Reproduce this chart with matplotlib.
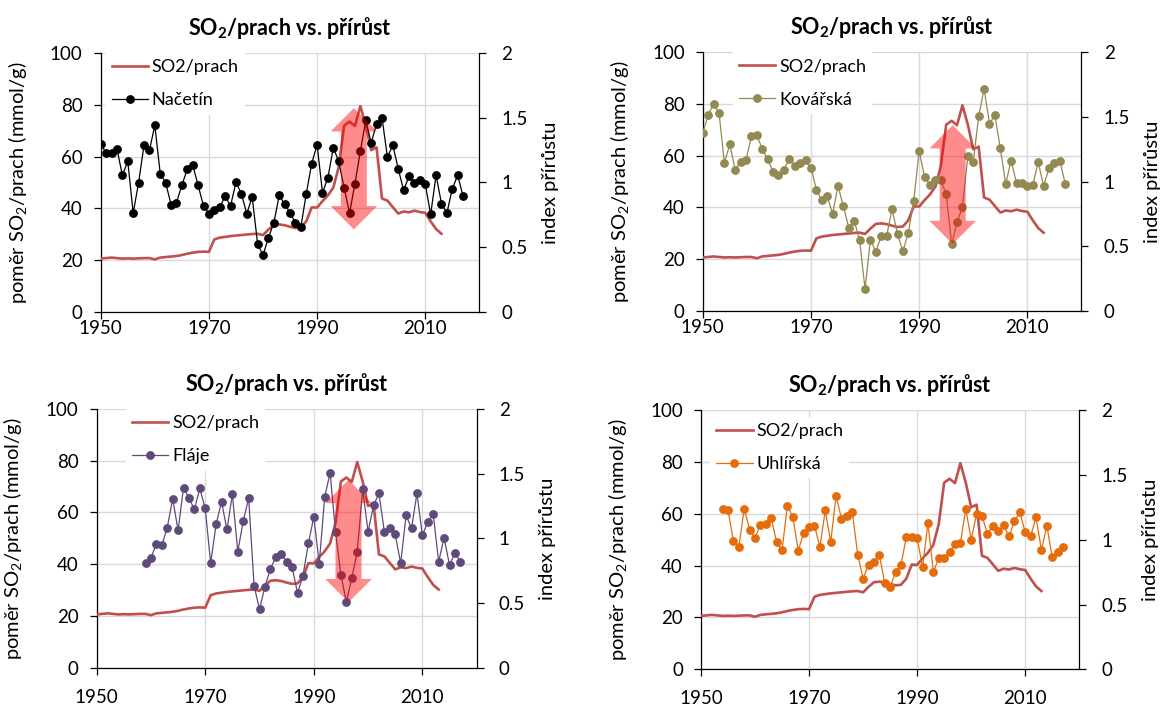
import numpy as np
import matplotlib
matplotlib.use('Agg')
import matplotlib.pyplot as plt
from matplotlib.patches import Polygon
from matplotlib.lines import Line2D

plt.rcParams['font.family'] = ['Lato', 'DejaVu Sans']
plt.rcParams['mathtext.fontset'] = 'custom'
plt.rcParams['mathtext.rm'] = 'Lato'
plt.rcParams['mathtext.it'] = 'Lato:italic'
plt.rcParams['mathtext.bf'] = 'Lato:bold'

# SO2/prach ratio (mmol/g), 1950-2013
so2_years = list(range(1950, 2014))
so2_ratio = [20.6, 20.8, 21.0, 20.8, 20.6, 20.7, 20.6, 20.7, 20.8, 20.8,
             20.3, 21.0, 21.2, 21.4, 21.6, 22.0, 22.5, 22.9, 23.2, 23.3,
             23.2, 28.0, 28.7, 29.0, 29.3, 29.5, 29.7, 29.9, 30.1, 30.2,
             29.7, 31.8, 33.6, 33.8, 33.5, 32.9, 32.4, 32.6, 35.0, 40.4,
             40.3, 42.8, 45.0, 48.0, 56.0, 72.0, 73.5, 71.8, 79.5, 72.0,
             62.5, 63.5, 43.8, 43.0, 40.5, 38.0, 38.8, 38.5, 39.1, 38.6,
             38.3, 35.0, 32.0, 30.2]

# growth index per site
nacetin_years = list(range(1950, 2018))
nacetin = [1.297, 1.228, 1.228, 1.259, 1.055, 1.163, 0.764, 0.999, 1.287, 1.248,
           1.441, 1.068, 0.999, 0.829, 0.844, 0.978, 1.104, 1.135, 0.978, 0.819,
           0.759, 0.790, 0.811, 0.893, 0.819, 1.001, 0.914, 0.759, 0.888, 0.528,
           0.438, 0.574, 0.687, 0.901, 0.831, 0.767, 0.687, 0.656, 0.914, 1.145,
           1.292, 0.921, 1.037, 1.269, 1.163, 0.958, 0.764, 0.991, 1.241, 1.480,
           1.305, 1.454, 1.501, 1.197, 1.287, 1.107, 0.940, 1.048, 0.999, 1.017,
           0.986, 0.754, 1.055, 0.837, 0.764, 0.952, 1.055, 0.893]

kovarska_years = list(range(1950, 2018))
kovarska = [1.377, 1.513, 1.603, 1.533, 1.146, 1.287, 1.090, 1.154, 1.167, 1.351,
            1.359, 1.251, 1.172, 1.077, 1.051, 1.090, 1.177, 1.121, 1.141, 1.167,
            1.108, 0.936, 0.854, 0.885, 0.751, 0.967, 0.808, 0.641, 0.697, 0.544,
            0.167, 0.551, 0.456, 0.582, 0.582, 0.787, 0.590, 0.462, 0.603, 0.851,
            1.238, 1.033, 0.974, 1.013, 1.008, 0.905, 0.513, 0.685, 0.803, 1.197,
            1.154, 1.505, 1.718, 1.449, 1.513, 1.256, 0.982, 1.162, 0.987, 0.987,
            0.962, 0.974, 1.149, 0.967, 1.103, 1.146, 1.162, 0.982]

flaje_years = list(range(1959, 2018))
flaje = [0.807, 0.851, 0.954, 0.946, 1.082, 1.306, 1.062, 1.391, 1.311, 1.224,
         1.386, 1.231, 0.807, 1.108, 1.283, 1.069, 1.339, 0.897, 1.134, 1.311,
         0.632, 0.452, 0.627, 0.761, 0.859, 0.877, 0.820, 0.779, 0.576, 0.710,
         0.961, 1.165, 0.805, 1.319, 1.506, 1.051, 0.715, 0.509, 0.692, 0.897,
         1.378, 1.051, 1.254, 1.347, 1.051, 1.082, 1.031, 0.807, 1.177, 1.077,
         1.347, 1.023, 1.129, 1.185, 0.820, 1.005, 0.792, 0.889, 0.820]

uhlirska_years = list(range(1954, 2018))
uhlirska = [1.238, 1.231, 0.987, 0.944, 1.238, 1.077, 1.013, 1.115, 1.123, 1.167,
            0.979, 0.923, 1.262, 1.172, 0.915, 1.051, 1.097, 1.108, 0.944, 1.226,
            0.982, 1.338, 1.162, 1.179, 1.213, 0.885, 0.700, 0.808, 0.826, 0.885,
            0.667, 0.633, 0.751, 0.803, 1.021, 1.021, 1.013, 0.787, 1.128, 0.751,
            0.859, 0.859, 0.905, 0.967, 0.974, 1.236, 1.000, 1.197, 1.185, 1.046,
            1.108, 1.069, 1.110, 1.026, 1.141, 1.213, 1.056, 1.026, 1.174, 0.918,
            1.108, 0.864, 0.905, 0.944]

# arrow marking the drop: (year, bottom, top) in SO2 units
arrow_nacetin = (1996.8, 31.9, 78.7)
arrow_kovarska = (1996.2, 25.8, 71.8)
arrow_flaje = (1996.4, 25.3, 72.6)

RED = '#C0504D'
GRID = '#D9D9D9'

fig = plt.figure(figsize=(11.66, 7.11), dpi=100)


def double_arrow(x, y0, y1, head_w=8.6, shaft_w=4.8, head_len=9.0):
    hw, sw = head_w / 2, shaft_w / 2
    pts = [(x, y1), (x + hw, y1 - head_len), (x + sw, y1 - head_len),
           (x + sw, y0 + head_len), (x + hw, y0 + head_len), (x, y0),
           (x - hw, y0 + head_len), (x - sw, y0 + head_len),
           (x - sw, y1 - head_len), (x - hw, y1 - head_len)]
    return pts


def panel(rect, name, years, values, color, arrow, leg_xy, xpad):
    ax = fig.add_axes(rect)
    ax2 = ax.twinx()
    ax.plot(so2_years, so2_ratio, color=RED, lw=1.9, zorder=3)
    ax2.plot(years, values, color=color, lw=0.9, marker='o', ms=5.3,
             zorder=3)
    if arrow is not None:
        poly = Polygon(double_arrow(*arrow), closed=True, facecolor='red',
                       edgecolor='none', alpha=0.45,
                       transform=ax.transData, zorder=5)
        ax2.add_patch(poly)

    ax.set_xlim(1950, 2020)
    ax.set_ylim(0, 100)
    ax2.set_ylim(0, 2)
    ax.set_xticks([1950, 1970, 1990, 2010])
    ax.set_yticks([0, 20, 40, 60, 80, 100])
    ax2.set_yticks([0, 0.5, 1, 1.5, 2])
    ax2.set_yticklabels(['0', '0.5', '1', '1.5', '2'])
    ax.grid(True, color=GRID, lw=1.0)
    ax.set_axisbelow(True)

    for a in (ax, ax2):
        a.spines['top'].set_visible(False)
        for s in a.spines.values():
            s.set_linewidth(0.9)
            s.set_color('black')
    ax.spines['right'].set_visible(False)
    ax2.spines['left'].set_visible(False)
    ax2.spines['bottom'].set_visible(False)

    ax.tick_params(axis='y', direction='out', length=5, width=0.9,
                   labelsize=13.5, pad=8)
    ax.tick_params(axis='x', direction='out', length=5, width=0.9,
                   labelsize=13.5, pad=xpad)
    ax2.tick_params(axis='y', direction='out', length=5, width=0.9,
                    labelsize=13.5, pad=11)

    ax.set_ylabel(r'poměr SO$_2$/prach (mmol/g)', fontsize=14.5)
    ax2.set_ylabel('index přírůstu', fontsize=14.5)
    ax.yaxis.set_label_coords(-0.19, 0.5)
    ax2.yaxis.set_label_coords(1.165, 0.5)
    ax.set_title(r'SO$_\mathbf{2}$/prach vs. přírůst', fontsize=15.5,
                 fontweight='bold', pad=13)

    handles = [Line2D([], [], color=RED, lw=1.9),
               Line2D([], [], color=color, lw=0.9, marker='o', ms=5.3)]
    leg = ax2.legend(handles, ['SO2/prach', name], loc='upper left',
                     bbox_to_anchor=leg_xy, borderaxespad=0, fontsize=13,
                     frameon=True, fancybox=False, framealpha=1,
                     edgecolor='none', handlelength=2.0, handletextpad=0.2,
                     labelspacing=0.95, borderpad=0.35)
    leg.set_zorder(10)
    return ax, ax2


panel([0.0864, 0.5612, 0.3247, 0.3643], 'Načetín', nacetin_years, nacetin,
      'black', arrow_nacetin, (0.012, 1.0), 1)
panel([0.6027, 0.5630, 0.3248, 0.3634], 'Kovářská', kovarska_years, kovarska,
      '#938953', arrow_kovarska, (0.08, 1.0), 1)
panel([0.0829, 0.0609, 0.3259, 0.3639], 'Fláje', flaje_years, flaje,
      '#604A7B', arrow_flaje, (0.077, 1.0), 10)
panel([0.6012, 0.0586, 0.3244, 0.3647], 'Uhlířská', uhlirska_years, uhlirska,
      '#E46C0A', None, (0.024, 0.975), 10)

fig.savefig('out.png', dpi=100)
